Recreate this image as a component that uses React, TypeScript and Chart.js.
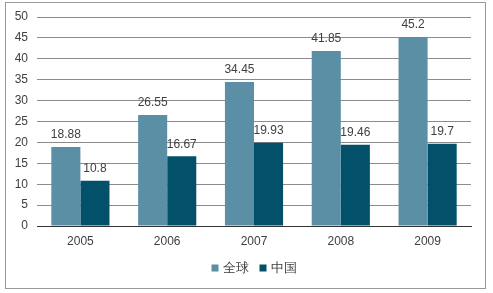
import React, { useEffect, useRef } from "react";
import { Chart, registerables } from "chart.js";

Chart.register(...registerables);

const categories = ["2005", "2006", "2007", "2008", "2009"];
const globalValues = [18.88, 26.55, 34.45, 41.85, 45.2];
const chinaValues = [10.8, 16.67, 19.93, 19.46, 19.7];
const seriesNames = ["全球", "中国"];
const seriesColors = ["#5b8fa6", "#02506a"];

const FONT = "'Liberation Sans', Arial, sans-serif";

const valueLabels = {
  id: "valueLabels",
  afterDatasetsDraw(chart: any) {
    const ctx = chart.ctx;
    ctx.save();
    ctx.font = `12px ${FONT}`;
    ctx.fillStyle = "#404040";
    ctx.textAlign = "center";
    ctx.textBaseline = "middle";
    chart.data.datasets.forEach((ds: any, i: number) => {
      const meta = chart.getDatasetMeta(i);
      meta.data.forEach((bar: any, j: number) => {
        ctx.fillText(String(ds.data[j]), bar.x, bar.y - 12);
      });
    });
    ctx.restore();
  },
};

const customLegend = {
  id: "customLegend",
  afterDraw(chart: any) {
    const ctx = chart.ctx;
    ctx.save();
    ctx.font = `13px ${FONT}`;
    ctx.textBaseline = "middle";
    ctx.textAlign = "left";
    const y = 268;
    const box = 7;
    const gapBoxText = 4;
    const gapItems = 11;
    const items = chart.data.datasets.map((ds: any) => ({
      label: ds.label,
      color: ds.backgroundColor,
      w: box + gapBoxText + ctx.measureText(ds.label).width,
    }));
    const total = items.reduce((s: number, it: any) => s + it.w, 0) + gapItems * (items.length - 1);
    let x = (chart.chartArea.left + chart.chartArea.right) / 2 - total / 2;
    items.forEach((it: any) => {
      ctx.fillStyle = it.color;
      ctx.fillRect(x, y - box / 2, box, box);
      ctx.fillStyle = "#404040";
      ctx.fillText(it.label, x + box + gapBoxText, y + 0.5);
      x += it.w + gapItems;
    });
    ctx.restore();
  },
};

export default function App() {
  const ref = useRef<HTMLCanvasElement>(null);

  useEffect(() => {
    document.body.style.margin = "0";
    if (!ref.current) return;
    const chart = new Chart(ref.current, {
      type: "bar",
      data: {
        labels: categories,
        datasets: [
          { label: seriesNames[0], data: globalValues, backgroundColor: seriesColors[0] },
          { label: seriesNames[1], data: chinaValues, backgroundColor: seriesColors[1] },
        ],
      },
      options: {
        responsive: false,
        animation: false,
        devicePixelRatio: 1,
        layout: { padding: { left: 0, top: 17, right: 22, bottom: 0 } },
        datasets: {
          bar: { categoryPercentage: 0.67, barPercentage: 1 },
        } as any,
        plugins: {
          legend: { display: false },
          tooltip: { enabled: false },
        },
        scales: {
          x: {
            grid: { display: false, drawTicks: false },
            border: { display: true, color: "#333333", width: 1 },
            ticks: {
              font: { family: FONT, size: 12 },
              color: "#404040",
              padding: 8,
            },
            afterFit: (scale: any) => {
              scale.height = 67;
            },
          },
          y: {
            min: 0,
            max: 50,
            ticks: {
              stepSize: 5,
              font: { family: FONT, size: 12 },
              color: "#404040",
              padding: 9,
            },
            grid: {
              drawTicks: false,
              color: (c: any) => (c.tick && c.tick.value === 0 ? "#333333" : "#8c8c8c"),
            },
            border: { display: false },
            afterFit: (scale: any) => {
              scale.width = 37;
            },
          },
        },
      },
      plugins: [valueLabels, customLegend],
    });
    return () => chart.destroy();
  }, []);

  return (
    <div style={{ position: "relative", width: 493, height: 293, background: "#fff" }}>
      <canvas ref={ref} width={493} height={293} style={{ position: "absolute", left: 0, top: 0 }} />
      <div
        style={{
          position: "absolute",
          left: 5,
          top: 2,
          width: 481,
          height: 287,
          border: "1px solid #999999",
          boxSizing: "border-box",
          pointerEvents: "none",
        }}
      />
    </div>
  );
}
